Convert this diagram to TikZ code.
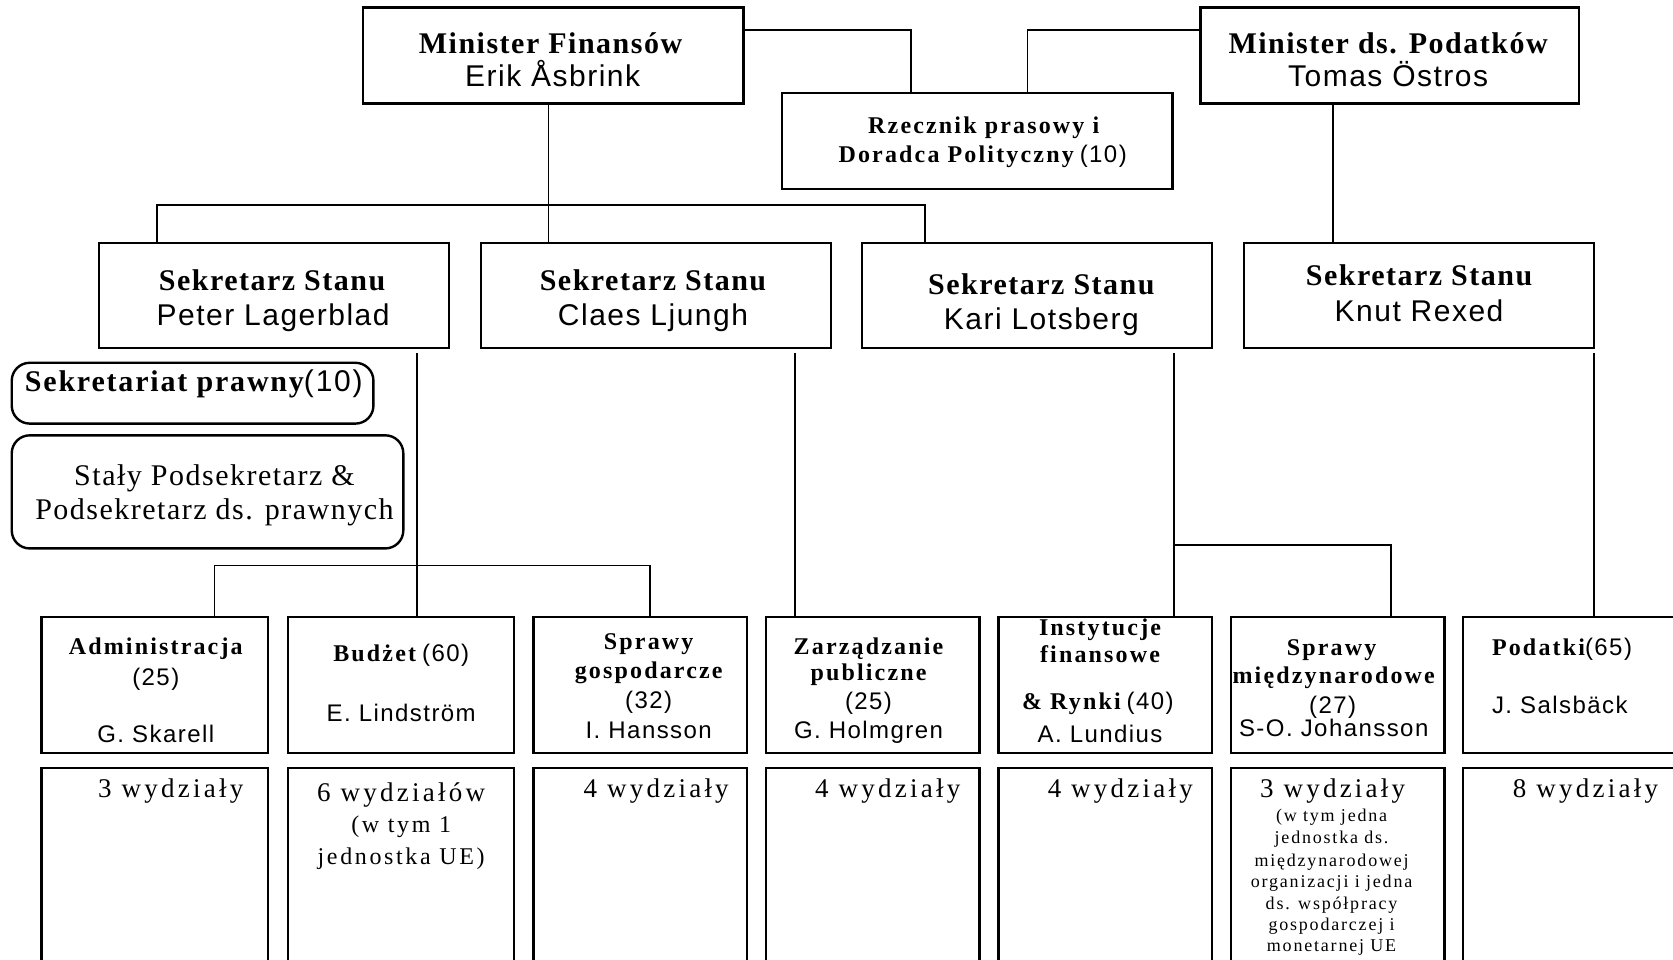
\documentclass[tikz,border=0pt]{standalone}
\usepackage{fontspec}
\setmainfont{Liberation Serif}
\setsansfont{Liberation Sans}
\usetikzlibrary{fit}
% letter-spaced bold serif, sans and regular serif
\newcommand\tb[2][5]{{\bfseries\addfontfeatures{LetterSpace=#1}#2}}
\newcommand\ts[2][5]{{\sffamily\addfontfeatures{LetterSpace=#1}#2}}
\newcommand\tr[2][5]{{\rmfamily\addfontfeatures{LetterSpace=#1}#2}}
\begin{document}
\begin{tikzpicture}[x=0.5335pt,y=-0.5335pt,
  box/.style={draw, line width=1.2pt, rectangle, inner sep=0pt},
  rbox/.style={box, rounded corners=9pt},
  link/.style={line width=0.9pt},
  txt/.style={anchor=base, inner sep=0pt},
  ltxt/.style={anchor=base west, inner sep=0pt},
  big/.style={font=\fontsize{15}{18}\selectfont},
  mid/.style={font=\fontsize{12}{14}\selectfont},
  dept/.style={font=\fontsize{12}{14}\selectfont},
  units/.style={font=\fontsize{13.5}{16}\selectfont},
  tiny/.style={font=\fontsize{9}{11}\selectfont}]
\useasboundingbox (0,0) rectangle (1568,899);
\clip (0,0) rectangle (1568,899);

% ---- ministers and press office
\node[box, fit={(340,7) (697,97)}] (mf) {};
\node[box, fit={(1125,7) (1480,97)}] (mp) {};
\node[box, fit={(733,87) (1099,177)}] (rz) {};

% ---- state secretaries
\node[box, fit={(93,228) (421,326)}] (ss1) {};
\node[box, fit={(451,228) (779,326)}] (ss2) {};
\node[box, fit={(808,228) (1136,326)}] (ss3) {};
\node[box, fit={(1166,228) (1494,326)}] (ss4) {};

% ---- legal secretariat
\node[rbox, fit={(11,340) (350,397)}] (sp) {};
\node[rbox, fit={(11,408) (378,514)}] (stp) {};

% ---- departments
\node[box, fit={(39,578) (251,706)}] (d1) {};
\node[box, fit={(270,578) (482,706)}] (d2) {};
\node[box, fit={(500,578) (700,706)}] (d3) {};
\node[box, fit={(718,578) (918,706)}] (d4) {};
\node[box, fit={(936,578) (1136,706)}] (d5) {};
\node[box, fit={(1154,578) (1354,706)}] (d6) {};
\node[box, fit={(1371,578) (1610,706)}] (d7) {};

% ---- divisions
\node[box, fit={(39,720) (251,950)}] (w1) {};
\node[box, fit={(270,720) (482,950)}] (w2) {};
\node[box, fit={(500,720) (700,950)}] (w3) {};
\node[box, fit={(718,720) (918,950)}] (w4) {};
\node[box, fit={(936,720) (1136,950)}] (w5) {};
\node[box, fit={(1154,720) (1354,950)}] (w6) {};
\node[box, fit={(1371,720) (1610,950)}] (w7) {};

% ---- connectors
\coordinate (j1) at (854,28);
\coordinate (j2) at (963,28);
\draw[link] (mf.east |- j1) -| (rz.north -| j1);
\draw[link] (mp.west |- j2) -| (rz.north -| j2);

\coordinate (bm) at (514,192);
\coordinate (bl) at (147,192);
\coordinate (br) at (867,192);
\draw[link] (mf.south -| bm) -- (ss2.north -| bm);
\draw[link] (ss1.north -| bl) -- (bl) -- (br) -- (ss3.north -| br);

\coordinate (kx) at (1249,0);
\draw[link] (mp.south -| kx) -- (ss4.north -| kx);

\coordinate (px) at (391,0);
\draw[link] ([yshift=-2pt]ss1.south -| px) -- (d2.north -| px);
\coordinate (a1) at (201,530);
\coordinate (a2) at (609,530);
\draw[link] (d1.north -| a1) -- (a1) -- (a2) -- (d3.north -| a2);

\coordinate (cx) at (745,0);
\draw[link] ([yshift=-2pt]ss2.south -| cx) -- (d4.north -| cx);

\coordinate (c1) at (1100,511);
\coordinate (c2) at (1304,511);
\draw[link] ([yshift=-2pt]ss3.south -| c1) -- (d5.north -| c1);
\draw[link] (c1) -- (c2) -- (d6.north -| c2);

\coordinate (nx) at (1494,0);
\draw[link] ([yshift=-2pt]ss4.south -| nx) -- (d7.north -| nx);

% ---- texts: top level
\node[txt, big] (t1) at (516,50) {\tb{Minister Finansów}};
\node[txt, big] (t2) at (518,81) {\ts{Erik Åsbrink}};
\node[txt, big] (t3) at (1301,50) {\tb{Minister ds. Podatków}};
\node[txt, big] (t4) at (1301,81) {\ts{Tomas Östros}};
\node[txt, mid] (t5) at (922,125) {\tb[9]{Rzecznik prasowy i}};
\node[txt, mid] (t6) at (921,152) {\tb[9]{Doradca Polityczny}\ \ts[6]{(10)}};

\node[txt, big] (t7) at (255,272) {\tb{Sekretarz Stanu}};
\node[txt, big] (t8) at (256,305) {\ts{Peter Lagerblad}};
\node[txt, big] (t9) at (612,272) {\tb{Sekretarz Stanu}};
\node[txt, big] (t10) at (612,305) {\ts{Claes Ljungh}};
\node[txt, big] (t11) at (976,276) {\tb{Sekretarz Stanu}};
\node[txt, big] (t12) at (976,309) {\ts{Kari Lotsberg}};
\node[txt, big] (t13) at (1330,268) {\tb{Sekretarz Stanu}};
\node[txt, big] (t14) at (1330,301) {\ts{Knut Rexed}};

\node[ltxt, big] (t15) at (23,367) {\tb[6]{Sekretariat prawny}\ts[6]{(10)}};
\node[txt, big] (t16) at (201,455) {\tr{Stały Podsekretarz \&}};
\node[txt, big] (t17) at (201,487) {\tr{Podsekretarz ds. prawnych}};

% ---- texts: departments
\node[txt, dept] (u1) at (146,613) {\tb[9]{Administracja}};
\node[txt, dept] (u2) at (146,642) {\ts[6]{(25)}};
\node[txt, dept] (u3) at (146,696) {\ts[6]{G. Skarell}};

\node[txt, dept] (u4) at (376,620) {\tb[9]{Budżet}\ \ts[6]{(60)}};
\node[txt, dept] (u5) at (376,676) {\ts[6]{E. Lindström}};

\node[txt, dept] (u6) at (608,609) {\tb[9]{Sprawy}};
\node[txt, dept] (u7) at (608,636) {\tb[9]{gospodarcze}};
\node[txt, dept] (u8) at (608,664) {\ts[6]{(32)}};
\node[txt, dept] (u9) at (608,692) {\ts[6]{I. Hansson}};

\node[txt, dept] (u10) at (814,613) {\tb[9]{Zarządzanie}};
\node[txt, dept] (u11) at (814,638) {\tb[9]{publiczne}};
\node[txt, dept] (u12) at (814,665) {\ts[6]{(25)}};
\node[txt, dept] (u13) at (814,692) {\ts[6]{G. Holmgren}};

\node[txt, dept] (u14) at (1031,596) {\tb[9]{Instytucje}};
\node[txt, dept] (u15) at (1031,621) {\tb[9]{finansowe}};
\node[txt, dept] (u16) at (1029,665) {\tb[9]{\& Rynki}\ \ts[6]{(40)}};
\node[txt, dept] (u17) at (1031,696) {\ts[6]{A. Lundius}};

\node[txt, dept] (u18) at (1248,614) {\tb[9]{Sprawy}};
\node[txt, dept] (u19) at (1250,641) {\tb[9]{międzynarodowe}};
\node[txt, dept] (u20) at (1249,669) {\ts[6]{(27)}};
\node[txt, dept] (u21) at (1250,690) {\ts[6]{S-O. Johansson}};

\node[ltxt, dept] (u22) at (1398,614) {\tb[9]{Podatki}\ts[6]{(65)}};
\node[ltxt, dept] (u23) at (1398,669) {\ts[6]{J. Salsbäck}};

% ---- texts: divisions
\node[txt, units] (v1) at (160,747) {\tr[12]{3 wydziały}};
\node[txt, units] (v2) at (376,751) {\tr[12]{6 wydziałów}};
\node[txt, dept] (v3) at (376,780) {\tr[11]{(w tym 1}};
\node[txt, dept] (v4) at (376,810) {\tr[11]{jednostka UE)}};
\node[txt, units] (v5) at (615,747) {\tr[12]{4 wydziały}};
\node[txt, units] (v6) at (832,747) {\tr[12]{4 wydziały}};
\node[txt, units] (v7) at (1050,747) {\tr[12]{4 wydziały}};
\node[txt, units] (v8) at (1249,747) {\tr[12]{3 wydziały}};
\node[txt, tiny] (v9) at (1248,770) {\tr[10]{(w tym jedna}};
\node[txt, tiny] (v10) at (1248,791) {\tr[10]{jednostka ds.}};
\node[txt, tiny] (v11) at (1248,812) {\tr[10]{międzynarodowej}};
\node[txt, tiny] (v12) at (1248,832) {\tr[10]{organizacji i jedna}};
\node[txt, tiny] (v13) at (1248,852) {\tr[10]{ds. współpracy}};
\node[txt, tiny] (v14) at (1248,872) {\tr[10]{gospodarczej i}};
\node[txt, tiny] (v15) at (1248,892) {\tr[10]{monetarnej UE}};
\node[txt, units] (v16) at (1486,747) {\tr[12]{8 wydziały}};
\end{tikzpicture}
\end{document}
